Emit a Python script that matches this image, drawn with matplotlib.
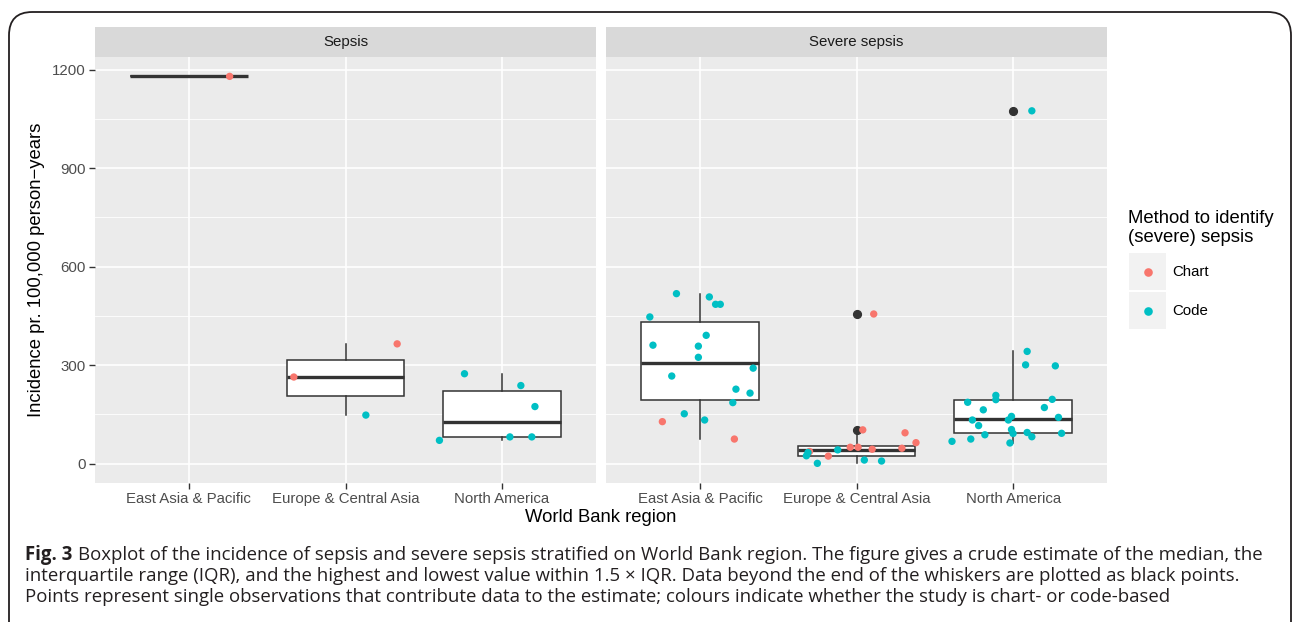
import numpy as np
import matplotlib
matplotlib.use("Agg")
import matplotlib.pyplot as plt
from matplotlib.patches import FancyBboxPatch, Rectangle
from matplotlib.lines import Line2D

# ---------------- data ----------------
regions = ["East Asia & Pacific", "Europe & Central Asia", "North America"]
panels = ["Sepsis", "Severe sepsis"]
methods = ["Chart", "Code"]
method_colors = ["#F8766D", "#00BFC4"]
y_ticks = [0, 300, 600, 900, 1200]

# Sepsis panel
sepsis_eap = [1180]
sepsis_eap_method = ["Chart"]
sepsis_eap_jitter = [0.26]

sepsis_eca = [264, 365, 148]
sepsis_eca_method = ["Chart", "Chart", "Code"]
sepsis_eca_jitter = [-0.33, 0.33, 0.13]

sepsis_na = [274, 238, 174, 71, 81.5, 81.5]
sepsis_na_method = ["Code"] * 6
sepsis_na_jitter = [-0.24, 0.12, 0.21, -0.40, 0.05, 0.19]

# Severe sepsis panel
severe_eap = [518, 508, 485.5, 485.5, 447, 361, 391, 358, 324, 291, 267, 227,
              215, 186, 152, 133, 128, 75]
severe_eap_method = ["Code"] * 16 + ["Chart", "Chart"]
severe_eap_jitter = [-0.15, 0.06, 0.10, 0.13, -0.32, -0.30, 0.04, -0.01, -0.01,
                     0.34, -0.18, 0.23, 0.32, 0.21, -0.10, 0.03, -0.24, 0.22]

severe_eca = [456, 103, 94, 64, 50, 50, 44, 47, 23, 37, 42, 34, 24, 1, 11, 8]
severe_eca_method = ["Chart"] * 10 + ["Code"] * 6
severe_eca_jitter = [0.11, 0.04, 0.31, 0.38, -0.04, 0.01, 0.10, 0.29, -0.18,
                     -0.30, -0.12, -0.31, -0.32, -0.25, 0.05, 0.16]

severe_na = [1075, 342, 301, 298, 208, 195, 187, 196, 171, 164, 141, 133, 144,
             133, 116, 104, 92, 88, 95, 82, 92.5, 68, 75, 63]
severe_na_method = ["Code"] * 24
severe_na_jitter = [0.12, 0.09, 0.08, 0.27, -0.11, -0.11, -0.29, 0.25, 0.20,
                    -0.19, 0.29, -0.26, -0.01, -0.03, -0.22, -0.01, 0.00, -0.18,
                    0.09, 0.12, 0.31, -0.39, -0.27, -0.02]

panel_data = [
    [(sepsis_eap, sepsis_eap_method, sepsis_eap_jitter),
     (sepsis_eca, sepsis_eca_method, sepsis_eca_jitter),
     (sepsis_na, sepsis_na_method, sepsis_na_jitter)],
    [(severe_eap, severe_eap_method, severe_eap_jitter),
     (severe_eca, severe_eca_method, severe_eca_jitter),
     (severe_na, severe_na_method, severe_na_jitter)],
]

x_title = "World Bank region"
y_title = "Incidence pr. 100,000 person\u2212years"
legend_title = "Method to identify\n(severe) sepsis"
caption_bold = "Fig. 3"
caption_lines = [
    "Boxplot of the incidence of sepsis and severe sepsis stratified on World Bank region. The figure gives a crude estimate of the median, the",
    "interquartile range (IQR), and the highest and lowest value within 1.5 \u00d7 IQR. Data beyond the end of the whiskers are plotted as black points.",
    "Points represent single observations that contribute data to the estimate; colours indicate whether the study is chart- or code-based",
]

# ---------------- layout ----------------
W, H = 1295, 622
DPI = 100
plt.rcParams['font.family'] = ['Liberation Sans', 'DejaVu Sans']
fig = plt.figure(figsize=(W / DPI, H / DPI), dpi=DPI)
fig.patch.set_facecolor("white")


def fx(x):
    return x / W


def fy(y):
    return 1 - y / H


panel_left = [95, 606]
panel_w = 501
panel_top, panel_bot = 57, 482.7
strip_top = 27

PANEL_BG = "#EBEBEB"
STRIP_BG = "#D9D9D9"
GRID = "white"
DARK = "#333333"
TICKLAB = "#4D4D4D"
SMALL = 10.8
BIG = 13.3

ylim = (-58, 1239)
for pi, pname in enumerate(panels):
    ax = fig.add_axes([fx(panel_left[pi]), fy(panel_bot), panel_w / W,
                       (panel_bot - panel_top) / H])
    ax.set_facecolor(PANEL_BG)
    for s in ax.spines.values():
        s.set_visible(False)
    ax.set_xlim(0.4, 3.6)
    ax.set_ylim(*ylim)
    pos = np.arange(1, len(regions) + 1)
    # grid
    for yv in y_ticks:
        ax.axhline(yv, color=GRID, lw=1.2, zorder=0.5)
    for yv in np.array(y_ticks[:-1]) + 150:
        ax.axhline(yv, color=GRID, lw=0.6, zorder=0.5)
    for xv in pos:
        ax.axvline(xv, color=GRID, lw=1.2, zorder=0.5)

    vals = [d[0] for d in panel_data[pi]]
    ax.boxplot(vals, positions=pos, widths=0.75, whis=1.5, patch_artist=True,
               showcaps=False, manage_ticks=False,
               boxprops=dict(facecolor="white", edgecolor=DARK, linewidth=1.1),
               medianprops=dict(color=DARK, linewidth=2.4),
               whiskerprops=dict(color=DARK, linewidth=1.1),
               flierprops=dict(marker="o", markerfacecolor=DARK,
                               markeredgecolor=DARK, markersize=5.6),
               zorder=2)
    # jittered points
    for ri, (v, m, j) in enumerate(panel_data[pi]):
        v = np.asarray(v, float)
        j = np.asarray(j, float)
        m = np.asarray(m)
        for mi, mname in enumerate(methods):
            sel = m == mname
            if sel.any():
                ax.scatter(pos[ri] + j[sel], v[sel], s=28, color=method_colors[mi],
                           edgecolors="none", zorder=3)

    ax.set_xticks(pos)
    ax.set_xticklabels(regions)
    ax.set_yticks(y_ticks)
    ax.tick_params(axis="both", colors=DARK, length=4.3, width=1.0,
                   labelcolor=TICKLAB, labelsize=SMALL, pad=2.3)
    if pi == 0:
        ax.set_yticklabels([str(t) for t in y_ticks])
    else:
        ax.tick_params(axis="y", length=0, labelleft=False)

    # strip
    sax = fig.add_axes([fx(panel_left[pi]), fy(panel_top), panel_w / W,
                        (panel_top - strip_top) / H])
    sax.set_facecolor(STRIP_BG)
    sax.set_xticks([])
    sax.set_yticks([])
    for s in sax.spines.values():
        s.set_visible(False)
    sax.text(0.5, 0.5, pname, ha="center", va="center", fontsize=SMALL,
             color="#1A1A1A", transform=sax.transAxes)

# axis titles
fig.text(fx((panel_left[0] + panel_left[1] + panel_w) / 2), fy(517), x_title,
         ha="center", va="center", fontsize=BIG, color="black")
fig.text(fx(37), fy((panel_top + panel_bot) / 2), y_title, rotation=90,
         ha="center", va="center", fontsize=BIG, color="black")

# legend
fig.text(fx(1128), fy(228), legend_title, ha="left", va="center",
         fontsize=BIG, linespacing=1.2, color="black")
key_y = [253, 292]
for ki, mname in enumerate(methods):
    fig.patches.append(Rectangle((fx(1129), fy(key_y[ki] + 37)), 37 / W, 37 / H,
                                 transform=fig.transFigure, facecolor="#F2F2F2",
                                 edgecolor="none"))
    fig.lines.append(Line2D([fx(1147.5)], [fy(key_y[ki] + 18.5)],
                            transform=fig.transFigure, marker="o", ms=6.2,
                            color=method_colors[ki], markeredgecolor="none",
                            linestyle="none"))
    fig.text(fx(1172), fy(key_y[ki] + 18.5), mname, ha="left", va="center",
             fontsize=SMALL, color="black")

# border box
fig.patches.append(FancyBboxPatch((fx(9), fy(650)), (1291 - 9) / W, (650 - 12) / H,
                                  boxstyle="round,pad=0,rounding_size=0.018",
                                  transform=fig.transFigure, facecolor="none",
                                  edgecolor="#231F20", linewidth=1.3,
                                  mutation_aspect=W / H))

# caption
cap_font = "Open Sans"
cap_y = [555, 576, 597]
cap_x0, cap_x1 = 25, 1256
renderer = fig.canvas.get_renderer()


def make_caption(size):
    arts = []
    tb = fig.text(fx(cap_x0), fy(cap_y[0]), caption_bold, ha="left", va="center",
                  fontsize=size, fontweight="bold", family=cap_font, color="#231F20")
    bb = tb.get_window_extent(renderer)
    t1 = fig.text(bb.x1 / W + 0.004 * size / 12, fy(cap_y[0]), caption_lines[0],
                  ha="left", va="center", fontsize=size, family=cap_font,
                  color="#231F20")
    arts += [tb, t1]
    for li in (1, 2):
        arts.append(fig.text(fx(cap_x0), fy(cap_y[li]), caption_lines[li],
                             ha="left", va="center", fontsize=size,
                             family=cap_font, color="#231F20"))
    return arts, t1


size = 12.0
arts, t1 = make_caption(size)
right = t1.get_window_extent(renderer).x1
scale = (cap_x1 - cap_x0) / (right - cap_x0)
for a in arts:
    a.remove()
arts, t1 = make_caption(size * scale)

fig.savefig("out.png", dpi=DPI, facecolor="white")
